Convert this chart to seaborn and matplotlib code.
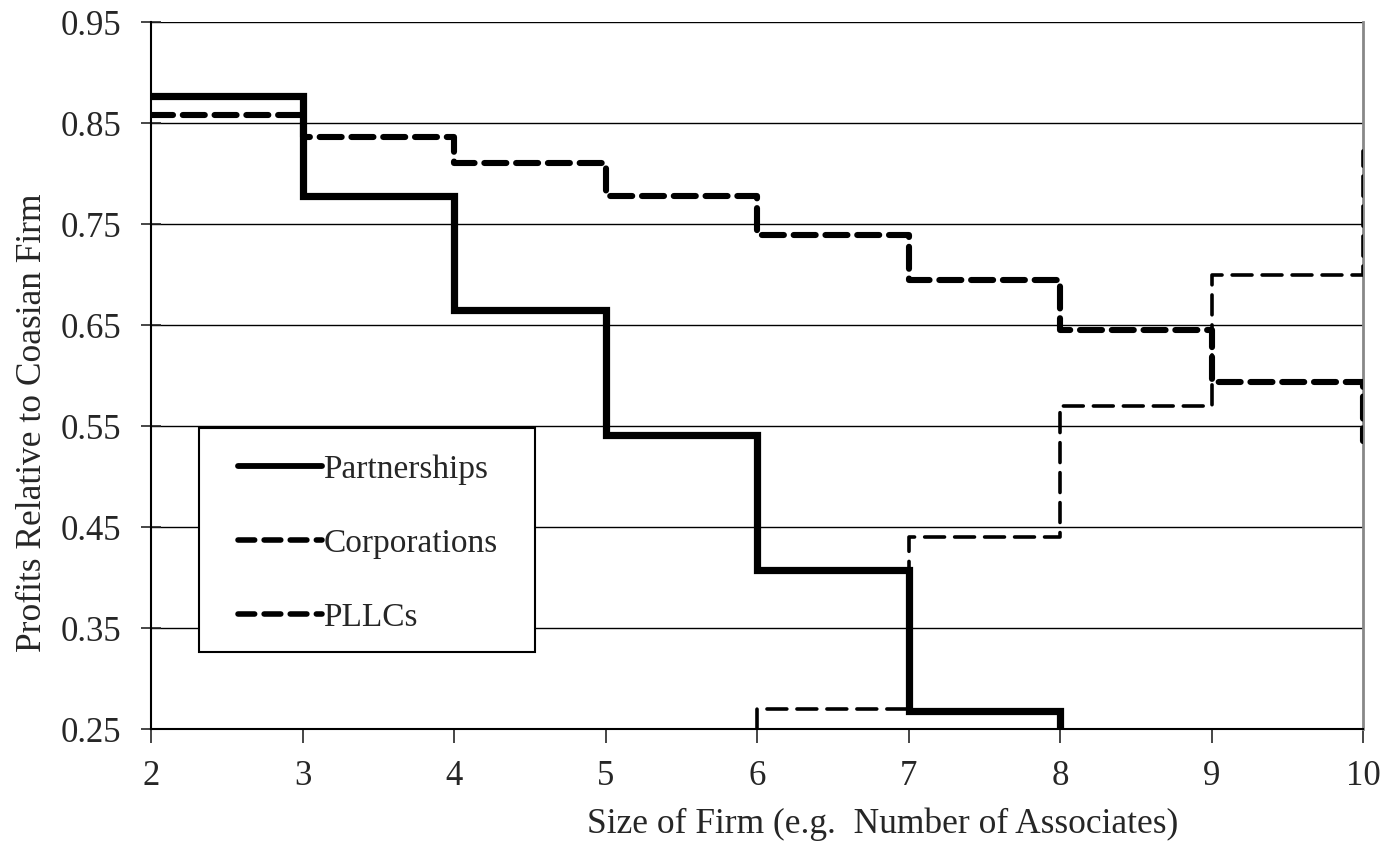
import matplotlib
matplotlib.use("Agg")
import matplotlib.pyplot as plt
from matplotlib.patches import Rectangle
import seaborn as sns
import pandas as pd

# Step values (steps-post: value holds until the next x)
part_x = [2, 3, 4, 5, 6, 7, 8]
part_y = [0.877, 0.778, 0.665, 0.541, 0.408, 0.268, 0.25]

corp_x = [6, 6, 7, 8, 9, 10, 10]
corp_y = [0.25, 0.270, 0.440, 0.570, 0.700, 0.822, 0.822]

pllc_x = [2, 3, 4, 5, 6, 7, 8, 9, 10]
pllc_y = [0.858, 0.836, 0.810, 0.778, 0.739, 0.695, 0.645, 0.594, 0.535]

y_ticks = [0.25, 0.35, 0.45, 0.55, 0.65, 0.75, 0.85, 0.95]
x_ticks = [2, 3, 4, 5, 6, 7, 8, 9, 10]

sns.set_style("white")
plt.rcParams['font.family'] = ['Liberation Serif', 'DejaVu Serif']

fig = plt.figure(figsize=(13.87, 8.48), dpi=100)
ax = fig.add_axes([0.109, 0.140, 0.874, 0.834])

part = pd.DataFrame({'x': part_x, 'y': part_y})
corp = pd.DataFrame({'x': corp_x, 'y': corp_y})
pllc = pd.DataFrame({'x': pllc_x, 'y': pllc_y})

sns.lineplot(data=part, x='x', y='y', ax=ax, estimator=None, sort=False,
             drawstyle='steps-post', color='black', lw=5.2,
             solid_joinstyle='miter', label='Partnerships', zorder=4)
sns.lineplot(data=corp, x='x', y='y', ax=ax, estimator=None, sort=False,
             drawstyle='steps-post', color='black', lw=2.6,
             dashes=(5.5, 2.8), dash_capstyle='round',
             label='Corporations', zorder=3)
sns.lineplot(data=pllc, x='x', y='y', ax=ax, estimator=None, sort=False,
             drawstyle='steps-post', color='black', lw=4.4,
             dashes=(3.6, 1.6), dash_capstyle='round',
             label='PLLCs', zorder=3)

ax.set_xlim(2, 10)
ax.set_ylim(0.25, 0.95)
ax.set_xticks(x_ticks)
ax.set_yticks(y_ticks)
ax.set_yticklabels([f'{v:.2f}' for v in y_ticks])
ax.yaxis.grid(True, color='black', lw=1.0)
ax.set_axisbelow(True)

for s in ['left', 'bottom']:
    ax.spines[s].set_color('black')
    ax.spines[s].set_linewidth(1.5)
ax.spines['top'].set_visible(False)
ax.spines['right'].set_color('#888888')
ax.spines['right'].set_linewidth(2)

ax.tick_params(axis='y', direction='inout', length=15, width=1.2,
               labelsize=25, pad=14, left=True)
ax.tick_params(axis='x', direction='out', length=10, width=1.2,
               labelsize=25, pad=12, bottom=True)

ax.set_xlabel('Size of Firm (e.g.  Number of Associates)', fontsize=25.5)
ax.xaxis.set_label_coords(0.603, -0.110)
ax.xaxis.label.set_va('top')
ax.set_ylabel('Profits Relative to Coasian Firm', fontsize=25.5)
ax.yaxis.set_label_coords(-0.084, 0.434)

# legend box (white, covers gridlines) and legend entries inside it
box = Rectangle((0.0396, 0.1089), 0.277, 0.3168, transform=ax.transAxes,
                facecolor='white', edgecolor='black', lw=1.5, zorder=5)
ax.add_patch(box)
leg = ax.legend(loc='upper left', bbox_to_anchor=(0.072, 0.3885), fontsize=24,
                frameon=False, handlelength=2.5, handletextpad=0.05,
                labelspacing=1.30, borderpad=0, borderaxespad=0)
leg.set_zorder(6)
hs = leg.legend_handles
hs[0].set_linewidth(4.2)
for h in hs[1:]:
    h.set_linewidth(4.0)
    h.set_dashes((3.0, 1.7))
    h.set_dash_capstyle('round')

fig.savefig('out.png', dpi=100, facecolor='white')
